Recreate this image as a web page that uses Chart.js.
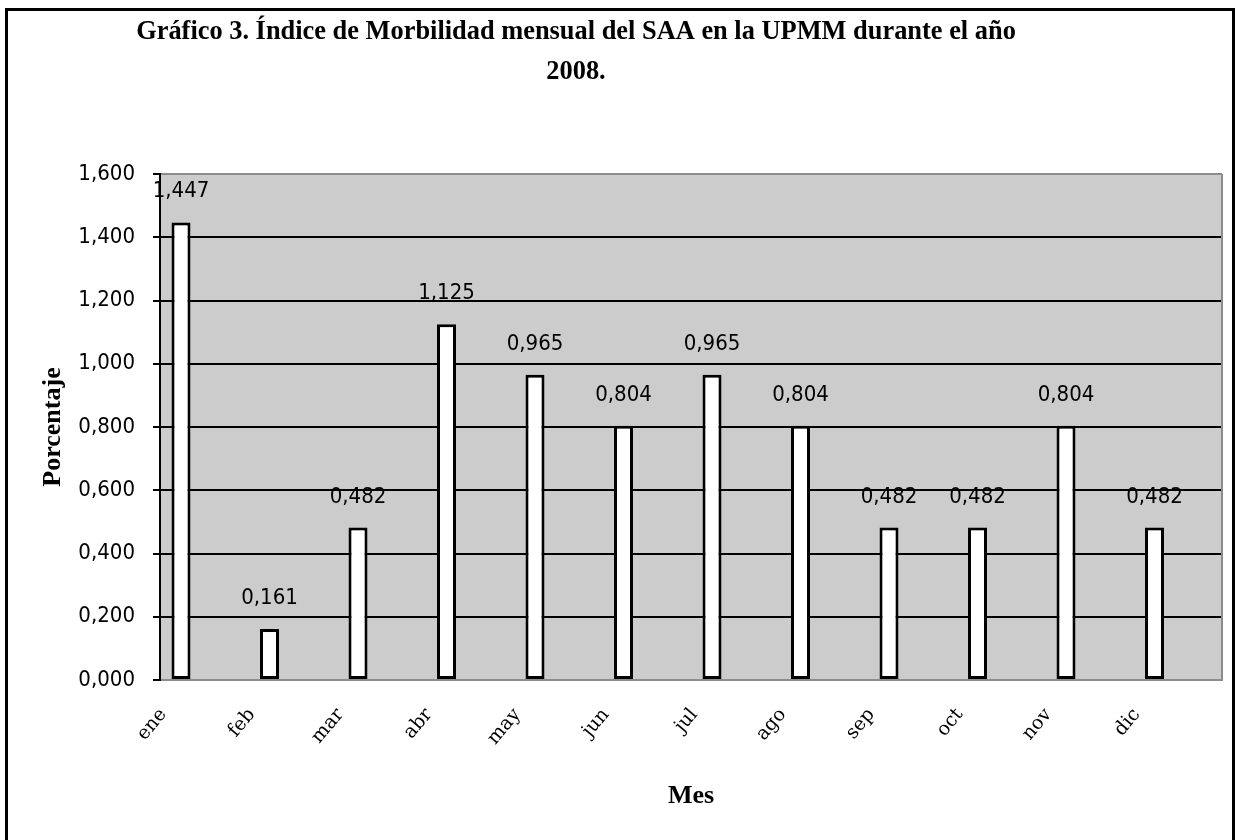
<!DOCTYPE html>
<html lang="es">
<head>
<meta charset="utf-8">
<title>Índice de Morbilidad mensual del SAA – 2008</title>
<script src="https://cdn.jsdelivr.net/npm/chart.js@4"></script>
<style>
  html, body { margin: 0; padding: 0; background: #fff; overflow: hidden; }
  body { width: 1235px; height: 840px; position: relative; }
  /* marco exterior del gráfico */
  #marco { position: absolute; left: 5px; top: 8px; width: 1230px; height: 900px;
           border: 3px solid #000; box-sizing: border-box; }
  #lienzo { position: absolute; left: -70px; top: 0; }
</style>
</head>
<body>
<div id="marco"></div>
<canvas id="lienzo" width="1298" height="840"></canvas>
<script>
// Datos: índice de morbilidad mensual (%)
const meses = ['ene', 'feb', 'mar', 'abr', 'may', 'jun', 'jul', 'ago', 'sep', 'oct', 'nov', 'dic'];
const indice = [1.447, 0.161, 0.482, 1.125, 0.965, 0.804, 0.965, 0.804, 0.482, 0.482, 0.804, 0.482];
const tituloLineas = ['Gráfico 3. Índice de Morbilidad mensual del SAA en la UPMM durante el año', '2008.'];
const tituloEjeX = 'Mes';
const tituloEjeY = 'Porcentaje';
const escalaY = { min: 0, max: 1.6, paso: 0.2 };

// número con coma decimal y tres decimales
const conComa = v => Number(v).toFixed(3).replace('.', ',');

const GRIS_AREA = '#cccccc';
const GRIS_BORDE = '#8c8c8c';
const fuenteNum = "'DejaVu Sans Condensed', 'DejaVu Sans', sans-serif";
const fuenteSerif = "'Liberation Serif', 'Times New Roman', serif";

// fondo gris del área de trazado y borde derecho
const areaTrazado = {
  id: 'areaTrazado',
  beforeDraw(chart) {
    const { ctx, chartArea: a } = chart;
    ctx.save();
    ctx.fillStyle = GRIS_AREA;
    ctx.fillRect(a.left, a.top, a.right - a.left, a.bottom - a.top);
    ctx.restore();
  },
  beforeDatasetsDraw(chart) {
    const { ctx, chartArea: a } = chart;
    ctx.save();
    ctx.strokeStyle = GRIS_BORDE;
    ctx.lineWidth = 2;
    ctx.beginPath();
    ctx.moveTo(a.right, a.top);
    ctx.lineTo(a.right, a.bottom);
    ctx.stroke();
    ctx.restore();
  }
};

// rótulos con el valor encima de cada barra
const rotulosValor = {
  id: 'rotulosValor',
  afterDatasetsDraw(chart) {
    const ctx = chart.ctx;
    const meta = chart.getDatasetMeta(0);
    const valores = chart.data.datasets[0].data;
    ctx.save();
    ctx.font = '22px ' + fuenteNum;
    ctx.fillStyle = '#000';
    ctx.textAlign = 'center';
    ctx.textBaseline = 'alphabetic';
    meta.data.forEach((barra, i) => {
      ctx.fillText(conComa(valores[i]), barra.x, barra.y - 25);
    });
    ctx.restore();
  }
};

const ultimoTick = Math.round((escalaY.max - escalaY.min) / escalaY.paso);

new Chart(document.getElementById('lienzo'), {
  type: 'bar',
  data: {
    labels: meses,
    datasets: [
      { label: 'Índice', data: indice, backgroundColor: '#ffffff', borderColor: '#000000',
        borderWidth: 3, borderSkipped: false },
      // series vacías del grupo (sin datos)
      { label: 'serie 2', data: [] },
      { label: 'serie 3', data: [] }
    ]
  },
  options: {
    responsive: false,
    devicePixelRatio: 1,
    animation: false,
    layout: { padding: { left: 0, right: 6, top: 0, bottom: 0 } },
    datasets: { bar: { categoryPercentage: 0.788, barPercentage: 0.817 } },
    plugins: {
      legend: { display: false },
      tooltip: { enabled: false },
      title: {
        display: true,
        text: tituloLineas,
        color: '#000',
        font: { family: fuenteSerif, size: 26.4, weight: 'bold', lineHeight: '40px' },
        padding: { top: 12, bottom: 82 }
      }
    },
    scales: {
      x: {
        grid: { display: false, drawTicks: false },
        border: { display: true, color: GRIS_BORDE, width: 2 },
        ticks: {
          autoSkip: false, minRotation: 50, maxRotation: 50,
          labelOffset: -41, padding: 24, color: '#000',
          font: { family: "'DejaVu Serif', serif", size: 19 }
        },
        title: {
          display: true, text: tituloEjeX, color: '#000',
          font: { family: fuenteSerif, size: 26, weight: 'bold' },
          padding: { top: 0, bottom: 28 }
        },
        afterFit(s) { s.height = 160; }
      },
      y: {
        min: escalaY.min,
        max: escalaY.max,
        ticks: {
          stepSize: escalaY.paso, padding: 18, color: '#000',
          font: { family: fuenteNum, size: 22 },
          callback: v => conComa(v)
        },
        grid: {
          color: c => (c.index === 0 || c.index === ultimoTick) ? GRIS_BORDE : '#000',
          lineWidth: 2, tickColor: '#000', tickLength: 7, tickWidth: 2
        },
        border: { color: '#000', width: 2 },
        title: {
          display: true, text: tituloEjeY, color: '#000',
          font: { family: fuenteSerif, size: 26, weight: 'bold' },
          padding: { top: 108, bottom: 0 }
        },
        afterFit(s) { s.width = 230; }
      }
    }
  },
  plugins: [areaTrazado, rotulosValor]
});
</script>
</body>
</html>
